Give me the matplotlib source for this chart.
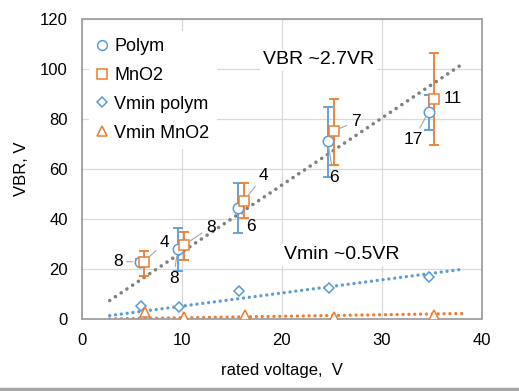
import matplotlib
matplotlib.use("Agg")
import matplotlib.pyplot as plt
import numpy as np
from matplotlib.lines import Line2D

plt.rcParams['font.family'] = ['Liberation Sans', 'DejaVu Sans']

# ---- data ----
polym_x = [5.8, 9.6, 15.6, 24.6, 34.7]
polym_y = [23.0, 28.0, 44.4, 71.3, 83.0]
polym_lo = [22.0, 19.3, 34.4, 56.8, 75.7]
polym_hi = [24.0, 36.6, 54.5, 84.8, 89.8]
polym_n = ['8', '8', '6', '6', '17']

mno2_x = [6.2, 10.2, 16.2, 25.2, 35.2]
mno2_y = [23.0, 29.6, 47.3, 75.3, 88.2]
mno2_lo = [17.4, 23.7, 40.6, 61.7, 69.6]
mno2_hi = [27.4, 34.9, 54.5, 88.2, 106.4]
mno2_n = ['4', '8', '4', '7', '11']

vmin_polym_x = [5.9, 9.7, 15.7, 24.7, 34.7]
vmin_polym_y = [5.3, 5.0, 11.5, 12.4, 16.8]

vmin_mno2_x = [6.3, 10.2, 16.3, 25.2, 35.2]
vmin_mno2_y = [2.8, 1.0, 1.6, 1.0, 1.7]

# label offsets (pixels)
polym_off = [(-22, 0), (-4, -29), (13, -18), (6, -37), (-15, -28)]
mno2_off = [(21, 19), (27, 18), (20, 25), (22, 9), (19, 0)]

BLUE = '#5b9bd5'
ORANGE = '#ed7d31'
GRAY = '#808080'

fig = plt.figure(figsize=(5.19, 3.91), dpi=100)
ax = fig.add_axes([0.1574, 0.1834, 0.7707, 0.7680])

# grid
ax.set_axisbelow(True)
ax.grid(True, color='#d9d9d9', lw=0.9)

def fit0(x, y):
    x = np.asarray(x); y = np.asarray(y)
    return (x * y).sum() / (x * x).sum()

# trendlines (through zero), extended each way
allx = polym_x + mno2_x
ally = polym_y + mno2_y
for xs, ys, c, lw, gap in [(allx, ally, GRAY, 2.6, 1.9),
                           (vmin_polym_x, vmin_polym_y, BLUE, 2.4, 1.75),
                           (vmin_mno2_x, vmin_mno2_y, ORANGE, 2.4, 1.75)]:
    k = fit0(xs, ys)
    xx = np.array([2.8, 38.2])
    ax.plot(xx, k * xx, color=c, lw=lw, linestyle=(0, (0.01, gap)),
            dash_capstyle='round', zorder=2)

# error bars
py = np.array(polym_y)
ax.errorbar(polym_x, polym_y, yerr=[py - np.array(polym_lo), np.array(polym_hi) - py],
            fmt='none', ecolor=BLUE, elinewidth=1.3, capsize=3.5, capthick=1.3, zorder=3)
my = np.array(mno2_y)
ax.errorbar(mno2_x, mno2_y, yerr=[my - np.array(mno2_lo), np.array(mno2_hi) - my],
            fmt='none', ecolor=ORANGE, elinewidth=1.3, capsize=3.5, capthick=1.3, zorder=3)

ax.plot(polym_x, polym_y, 'o', ms=7.5, mfc='white', mec=BLUE, mew=1.1, zorder=4)
ax.plot(mno2_x, mno2_y, 's', ms=7, mfc='white', mec=ORANGE, mew=1.1, zorder=5)
ax.plot(vmin_polym_x, vmin_polym_y, 'D', ms=5.5, mfc='white', mec=BLUE, mew=1.1, zorder=4)
ax.plot(vmin_mno2_x, vmin_mno2_y, '^', ms=7.5, mfc='white', mec=ORANGE, mew=1.1, zorder=4)

# data labels
for xs, ys, ns, offs in [(polym_x, polym_y, polym_n, polym_off),
                         (mno2_x, mno2_y, mno2_n, mno2_off)]:
    for x, y, n, (dx, dy) in zip(xs, ys, ns, offs):
        far = (dx * dx + dy * dy) > 400
        ax.annotate(n, (x, y), xytext=(dx, dy), textcoords='offset pixels',
                    ha='center', va='center', fontsize=12.5, color='#000000', zorder=6,
                    arrowprops=dict(arrowstyle='-', color='#a6a6a6', lw=0.8,
                                    shrinkA=1, shrinkB=5) if far else None)

ax.text(23.7, 103.7, 'VBR ~2.7VR', fontsize=14, ha='center', va='center',
        bbox=dict(facecolor='white', edgecolor='none', pad=2), zorder=1.5)
ax.text(26.0, 25.7, 'Vmin ~0.5VR', fontsize=14, ha='center', va='center',
        bbox=dict(facecolor='white', edgecolor='none', pad=2), zorder=1.5)

ax.set_xlim(0, 40)
ax.set_ylim(0, 120)
ax.set_xticks([0, 10, 20, 30, 40])
ax.set_yticks([0, 20, 40, 60, 80, 100, 120])
ax.tick_params(length=0, labelsize=12, pad=10)
for s in ax.spines.values():
    s.set_color('#a0a0a0')
    s.set_linewidth(1.3)

ax.set_xlabel('rated voltage,  V', fontsize=12, labelpad=11)
ax.set_ylabel('VBR, V', fontsize=12, labelpad=8)

handles = [
    Line2D([], [], ls='none', marker='o', ms=7, mfc='white', mec=BLUE, mew=1.1),
    Line2D([], [], ls='none', marker='s', ms=7, mfc='white', mec=ORANGE, mew=1.1),
    Line2D([], [], ls='none', marker='D', ms=5.5, mfc='white', mec=BLUE, mew=1.1),
    Line2D([], [], ls='none', marker='^', ms=7.5, mfc='white', mec=ORANGE, mew=1.1),
]
leg = ax.legend(handles, ['Polym', 'MnO2', 'Vmin polym', 'Vmin MnO2'], loc='upper left',
                frameon=True, fontsize=13, handlelength=0.6, handletextpad=0.4,
                labelspacing=0.66, borderaxespad=0.4, bbox_to_anchor=(0.0, 0.985))
leg.get_frame().set_facecolor('white')
leg.get_frame().set_edgecolor('none')
leg.get_frame().set_alpha(1)

fig.add_artist(Line2D([0, 1], [0.005, 0.005], color='#a6a6a6', lw=2.5,
                      transform=fig.transFigure))

fig.savefig('out.png', dpi=100)
